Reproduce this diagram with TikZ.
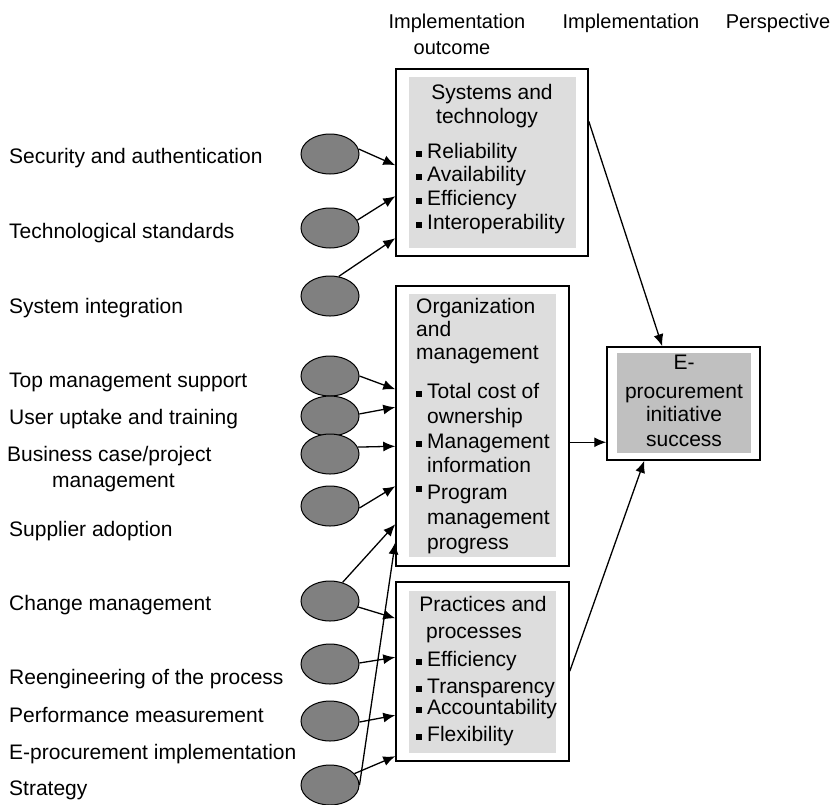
\documentclass[tikz,border=0pt]{standalone}
\usepackage{fontspec}
\setmainfont{Liberation Sans}
\usetikzlibrary{shapes.geometric,arrows.meta}
\definecolor{ovalgray}{RGB}{128,128,128}
\definecolor{boxlight}{RGB}{221,221,221}
\definecolor{boxmid}{RGB}{192,192,192}
\newcommand\bul{\rule[2pt]{6pt}{6pt}\hspace{5pt}}
\newcommand\bulup{\rule[8pt]{6pt}{6pt}\hspace{5pt}}
\begin{document}
\begin{tikzpicture}[x=1pt,y=-1pt,
 txt/.style={inner sep=0pt, text height=15pt, text depth=0pt, font=\fontsize{21}{25}\selectfont},
 lt/.style={txt, anchor=west},
 ct/.style={txt, anchor=center},
 hd/.style={inner sep=0pt, text height=14pt, text depth=0pt, font=\fontsize{20}{24}\selectfont, anchor=center},
 oval/.style={ellipse, draw=black, line width=1pt, fill=ovalgray, minimum width=58pt, minimum height=40pt, inner sep=0pt},
 outerbox/.style={draw=black, line width=1.5pt, fill=white, inner sep=0pt},
 lightbox/.style={fill=boxlight, draw=none, inner sep=0pt},
 midbox/.style={fill=boxmid, draw=none, inner sep=0pt},
 arr/.style={line width=1.3pt, -{Latex[length=12pt,width=10pt]}},
]
\useasboundingbox (0,0) rectangle (837,804);

% headers
\node[hd] (h1) at (457,21) {Implementation};
\node[hd] (h1b) at (452,47) {outcome};
\node[hd] (h2) at (631,21) {Implementation};
\node[hd] (h3) at (778,21) {Perspective};

% left labels
\node[lt] (l1) at (9,156) {Security and authentication};
\node[lt] (l2) at (9,231) {Technological standards};
\node[lt] (l3) at (9,306) {System integration};
\node[lt] (l4) at (9,380) {Top management support};
\node[lt] (l5) at (9,417) {User uptake and training};
\node[lt] (l6) at (7,454) {Business case/project};
\node[lt] (l6b) at (52,480) {management};
\node[lt] (l7) at (9,529) {Supplier adoption};
\node[lt] (l8) at (9,603) {Change management};
\node[lt] (l9) at (9,677) {Reengineering of the process};
\node[lt] (l10) at (9,715) {Performance measurement};
\node[lt] (l11) at (9,752) {E-procurement implementation};
\node[lt] (l12) at (9,788) {Strategy};

% ellipses
\node[oval] (e1) at (330,154) {};
\node[oval] (e2) at (330,228) {};
\node[oval] (e3) at (330,296) {};
\node[oval] (e4) at (330,376) {};
\node[oval] (e5) at (330,416) {};
\node[oval] (e6) at (330,454) {};
\node[oval] (e7) at (330,506) {};
\node[oval] (e8) at (330,601) {};
\node[oval] (e9) at (330,664) {};
\node[oval] (e10) at (330,721) {};
\node[oval] (e11) at (330,785) {};

% boxes
\node[outerbox, minimum width=192pt, minimum height=187pt] (b1) at (492,162.5) {};
\node[lightbox, minimum width=167pt, minimum height=171pt] (g1) at (492.5,162.5) {};
\node[outerbox, minimum width=173pt, minimum height=280pt] (b2) at (482.5,426) {};
\node[lightbox, minimum width=147pt, minimum height=263pt] (g2) at (482.5,425.5) {};
\node[outerbox, minimum width=173pt, minimum height=179pt] (b3) at (482.5,671.5) {};
\node[lightbox, minimum width=147pt, minimum height=162pt] (g3) at (482.5,672) {};
\node[outerbox, minimum width=153pt, minimum height=113pt] (b4) at (683.5,403.5) {};
\node[midbox, minimum width=134pt, minimum height=100pt] (g4) at (684,403) {};

% box 1 text
\node[ct] (t1a) at (492,92) {Systems and};
\node[ct] (t1b) at (487,116) {technology};
\node[lt] (t1c) at (416,151) {\bul Reliability};
\node[lt] (t1d) at (416,174) {\bul Availability};
\node[lt] (t1e) at (416,198) {\bul Efficiency};
\node[lt] (t1f) at (416,222) {\bul Interoperability};

% box 2 text
\node[lt] (t2a) at (416,306) {Organization};
\node[lt] (t2b) at (416,329) {and};
\node[lt] (t2c) at (416,352) {management};
\node[lt] (t2d) at (416,391) {\bul Total cost of};
\node[lt] (t2e) at (427,416) {ownership};
\node[lt] (t2f) at (416,441) {\bul Management};
\node[lt] (t2g) at (427,465) {information};
\node[lt] (t2h) at (416,492) {\bulup Program};
\node[lt] (t2i) at (427,517) {management};
\node[lt] (t2j) at (427,542) {progress};

% box 3 text
\node[ct] (t3a) at (483,604) {Practices and};
\node[ct] (t3b) at (474,631) {processes};
\node[lt] (t3c) at (416,659) {\bul Efficiency};
\node[lt] (t3d) at (416,686) {\bul Transparency};
\node[lt] (t3e) at (416,707) {\bul Accountability};
\node[lt] (t3f) at (416,734) {\bul Flexibility};

% box 4 text
\node[ct] (t4a) at (684,362) {E-};
\node[ct] (t4b) at (684,391) {procurement};
\node[ct] (t4c) at (684,414) {initiative};
\node[ct] (t4d) at (684,439) {success};

% arrows to box 1
\draw[arr] (e1.10) -- ([yshift=-97pt]b1.north west);
\draw[arr] (e2.16) -- ([yshift=-128pt]b1.north west);
\draw[arr] (e3.66) -- ([yshift=-170pt]b1.north west);
% arrows to box 2
\draw[arr] (e4.0) -- ([yshift=-104pt]b2.north west);
\draw[arr] (e5.4) -- ([yshift=-122pt]b2.north west);
\draw[arr] (e6.14) -- ([yshift=-161pt]b2.north west);
\draw[arr] (e7.-4) -- ([yshift=-201pt]b2.north west);
\draw[arr] (e8.56) -- ([yshift=-239pt]b2.north west);
\draw[arr] (e11.0) -- ([yshift=-257pt]b2.north west);
% arrows to box 3
\draw[arr] (e8.-12) -- ([yshift=-37pt]b3.north west);
\draw[arr] (e9.2) -- ([yshift=-76pt]b3.north west);
\draw[arr] (e10.-2) -- ([yshift=-134pt]b3.north west);
\draw[arr] (e11.25) -- ([yshift=-175pt]b3.north west);
% arrows to box 4
\draw[arr] ([yshift=-53pt]b1.north east) -- ([xshift=56pt]b4.north west);
\draw[arr] ([yshift=-157pt]b2.north east) -- ([yshift=-96pt]b4.north west);
\draw[arr] ([yshift=-90pt]b3.north east) -- ([xshift=38pt]b4.south west);
\end{tikzpicture}
\end{document}
